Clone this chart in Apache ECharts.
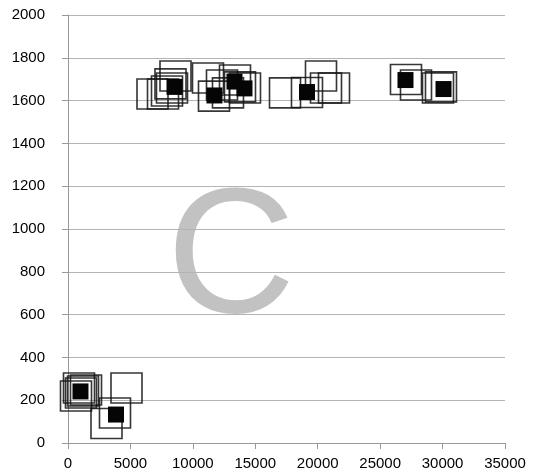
<!DOCTYPE html>
<html>
<head>
<meta charset="utf-8">
<script src="https://cdn.jsdelivr.net/npm/echarts@6/dist/echarts.min.js"></script>
<style>
  html, body { margin: 0; padding: 0; background: #fff; }
  #chart { width: 535px; height: 476px; }
</style>
</head>
<body>
<div id="chart"></div>
<script>
// individual observations (hollow squares)
var pointX = [641, 881, 1041, 1201, 1442, 4685, 3764, 3083,
              6768, 7609, 8209, 8610, 8329, 7929,
              11213, 11693, 13375, 13775, 14175, 12334, 12814,
              17380, 19141, 20263, 20663, 21304,
              27070, 27871, 29873, 29633];
var pointY = [220, 257, 234, 243, 248, 257, 140, 91,
              1631, 1631, 1678, 1715, 1659, 1645,
              1706, 1621, 1696, 1664, 1659, 1673, 1636,
              1636, 1638, 1715, 1659, 1659,
              1699, 1673, 1664, 1659];
// cluster centres (filled squares)
var meanX = [1000, 3845, 8530, 11730, 13335, 14135, 19140, 27030, 30075];
var meanY = [241, 133, 1664, 1624, 1689, 1657, 1640, 1696, 1654];

var xTicks = [0, 5000, 10000, 15000, 20000, 25000, 30000, 35000];
var yTicks = [0, 200, 400, 600, 800, 1000, 1200, 1400, 1600, 1800, 2000];

var chart = echarts.init(document.getElementById('chart'));

var pointData = [];
for (var i = 0; i < pointX.length; i++) {
  pointData.push([pointX[i], pointY[i]]);
}
var meanData = [];
for (var j = 0; j < meanX.length; j++) {
  meanData.push([meanX[j], meanY[j]]);
}

var labelFont = { color: '#000', fontSize: 15, fontFamily: 'Liberation Sans, Arial, sans-serif',
  formatter: function (v) { return String(v); } };

var option = {
  animation: false,
  backgroundColor: '#fff',
  grid: { left: 68, right: 30, top: 15, bottom: 33, containLabel: false },
  xAxis: {
    type: 'value',
    min: xTicks[0],
    max: xTicks[xTicks.length - 1],
    interval: 5000,
    axisLine: { show: true, lineStyle: { color: '#999', width: 1 } },
    axisTick: { show: true, length: 6, lineStyle: { color: '#999' } },
    axisLabel: Object.assign({ margin: 13 }, labelFont),
    splitLine: { show: false }
  },
  yAxis: {
    type: 'value',
    min: yTicks[0],
    max: yTicks[yTicks.length - 1],
    interval: 200,
    axisLine: { show: true, lineStyle: { color: '#999', width: 1 } },
    axisTick: { show: true, length: 6, lineStyle: { color: '#999' } },
    axisLabel: Object.assign({ margin: 23 }, labelFont),
    splitLine: { show: true, lineStyle: { color: '#b4b4b4', width: 1 } }
  },
  graphic: [{
    type: 'text',
    x: 231,
    y: 263,
    z: -1,
    style: {
      text: 'C',
      fill: '#c2c2c2',
      font: '178px "Liberation Sans", Arial, sans-serif',
      textAlign: 'center',
      textVerticalAlign: 'middle'
    }
  }],
  series: [
    {
      name: 'points',
      type: 'scatter',
      symbol: 'rect',
      symbolSize: [31, 30],
      data: pointData,
      itemStyle: { color: 'rgba(255,255,255,0)', borderColor: 'rgba(20,20,20,0.85)', borderWidth: 1.6, opacity: 1 },
      z: 3
    },
    {
      name: 'means',
      type: 'scatter',
      symbol: 'rect',
      symbolSize: 16,
      data: meanData,
      itemStyle: { color: '#050505', opacity: 1 },
      z: 4
    }
  ]
};

chart.setOption(option);
</script>
</body>
</html>
